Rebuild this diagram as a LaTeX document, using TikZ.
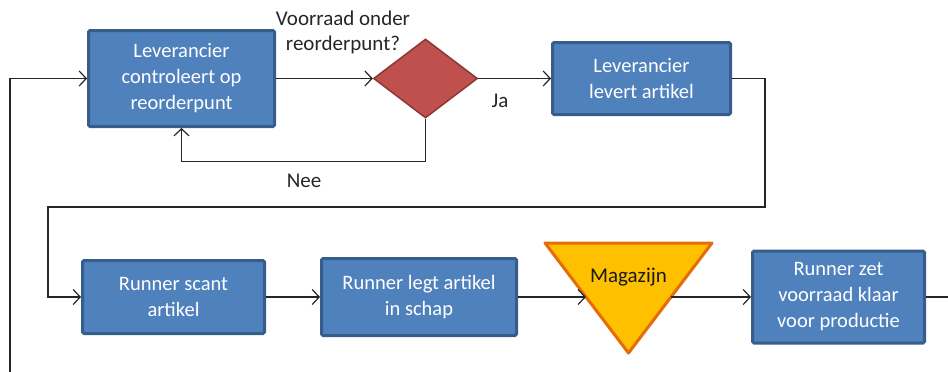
\documentclass[tikz,border=0pt]{standalone}
\usepackage{fontspec}
\setmainfont{Carlito}
\usetikzlibrary{arrows.meta,shapes.geometric,calc}
\definecolor{boxfill}{HTML}{4F81BD}
\definecolor{boxline}{HTML}{375D8C}
\definecolor{diafill}{HTML}{C0504D}
\definecolor{dialine}{HTML}{8C3836}
\definecolor{trifill}{HTML}{FFC000}
\definecolor{triline}{HTML}{E46C0A}
\tikzset{
  procbox/.style={draw=boxline, fill=boxfill, line width=3pt, rounded corners=1.5pt,
    text=white, align=center, font=\fontsize{20.5}{26}\selectfont, inner sep=0pt},
  decision/.style={diamond, draw=dialine, fill=diafill, line width=1.5pt, inner sep=0pt,
    minimum width=104pt, minimum height=79pt},
  conn/.style={draw=black!85, line width=1.2pt},
  arr/.style={conn, -{Straight Barb[length=7pt,width=15pt,line width=1.2pt]}},
  lbl/.style={text=black!85, align=center, font=\fontsize{21}{25}\selectfont, inner sep=0pt},
}
\begin{document}
\begin{tikzpicture}[x=1pt,y=-1pt]
\useasboundingbox (0,0) rectangle (948,372);
\node[procbox, minimum width=186pt, minimum height=96pt] (b1) at (181.5,78.5)
  {Leverancier\\controleert op\\reorderpunt};
\node[decision] (dia) at (425.5,78.5) {};
\node[procbox, minimum width=178pt, minimum height=72pt] (b2) at (641.5,78.5)
  {Leverancier\\levert artikel};
\node[procbox, minimum width=182pt, minimum height=73pt] (b3) at (173.5,297)
  {Runner scant\\artikel};
\node[procbox, minimum width=195pt, minimum height=77pt] (b4) at (419,297)
  {Runner legt artikel\\in schap};
\node[procbox, minimum width=172pt, minimum height=92pt] (b5) at (838.5,297)
  {Runner zet\\voorraad klaar\\voor productie};
% triangle
\coordinate (ta) at (545,243);
\coordinate (tb) at (712,243);
\coordinate (tc) at (628.5,353);
\draw[draw=triline, fill=trifill, line width=3pt, line join=round] (ta) -- (tb) -- (tc) -- cycle;
\node[lbl, text=black!90] (mag) at (628.5,277) {Magazijn};
\coordinate (triL) at ($(ta)!0.49!(tc)$);
\coordinate (triR) at ($(tb)!0.49!(tc)$);
% labels
\node[lbl] (q) at (343,32) {Voorraad onder\\reorderpunt?};
\node[lbl] (nee) at (304,181) {Nee};
\node[lbl] (ja) at (500,101) {Ja};
% connectors
\coordinate (in0) at (10,372);
\coordinate (c1) at (765,207);
\coordinate (c2) at (48,207);
\coordinate (out) at (948,297);
\draw[arr] (in0) |- (b1.west);
\draw[arr] (b1.east) -- (dia.west);
\draw[arr] (dia.south) -- ++(0,43) -| (b1.south);
\draw[arr] (dia.east) -- (b2.west);
\draw[arr] (b2.east) -| (c1) -- (c2) |- (b3.west);
\draw[arr] (b3.east) -- (b4.west);
\draw[arr] (b4.east) -- (b4.east -| triL);
\draw[arr] (b4.east -| triR) -- (b5.west);
\draw[conn] (b5.east) -- (out);
\end{tikzpicture}
\end{document}
